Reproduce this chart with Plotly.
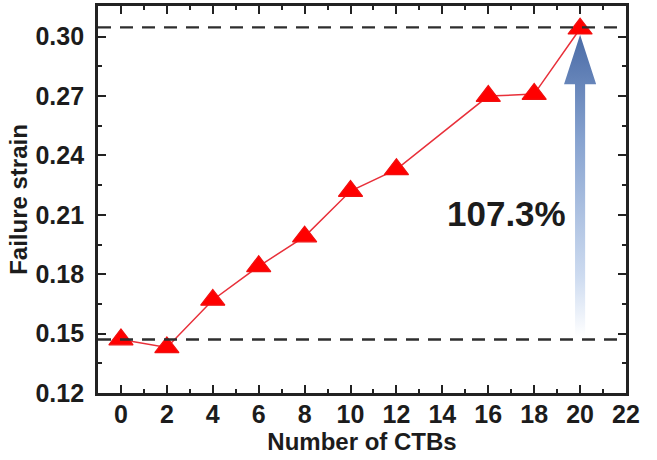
import plotly.graph_objects as go

ctbs = [0, 2, 4, 6, 8, 10, 12, 16, 18, 20]
failure_strain = [0.147, 0.143, 0.167, 0.184, 0.199, 0.222, 0.233, 0.270, 0.271, 0.304]
ref_low = 0.147
ref_high = 0.3047
increase_label = "107.3%"
x_ticks = list(range(0, 23, 2))
y_ticks = [0.12, 0.15, 0.18, 0.21, 0.24, 0.27, 0.30]

FONT = "Liberation Sans, Arial, sans-serif"
INK = "#1c1c1c"

fig = go.Figure()

# gradient arrow at last point
xa = ctbs[-1]
shaft_w, head_w = 0.22, 0.70
y_bot = ref_low + 0.0015
y_tip = failure_strain[-1] - 0.003
y_headbase = y_tip - 0.025
ax = [xa - shaft_w, xa + shaft_w, xa + shaft_w, xa + head_w, xa, xa - head_w, xa - shaft_w, xa - shaft_w]
ay = [y_bot, y_bot, y_headbase, y_headbase, y_tip, y_headbase, y_headbase, y_bot]
fig.add_trace(go.Scatter(
    x=ax, y=ay, mode="lines", fill="toself",
    line=dict(width=0, color="rgba(0,0,0,0)"),
    fillgradient=dict(type="vertical",
                      colorscale=[[0, "rgba(255,255,255,1)"], [0.2, "#cddbf0"], [0.65, "#87a3d0"], [1, "#4a6ba6"]]),
    hoverinfo="skip", showlegend=False))

fig.add_trace(go.Scatter(
    x=ctbs, y=failure_strain, mode="lines+markers",
    line=dict(color="#e8303a", width=1.5),
    marker=dict(symbol="triangle-up", size=21, color="#ff0000", line=dict(width=1.2, color="#f01010")),
    showlegend=False))

for yv in (ref_low, ref_high):
    fig.add_shape(type="line", xref="x domain", yref="y", x0=0, x1=1, y0=yv, y1=yv,
                  line=dict(color="#2e2e2e", width=2.4, dash="13px,9px"), layer="above")

fig.add_annotation(x=16.8, y=0.2105, text="<b>" + increase_label + "</b>", showarrow=False,
                   font=dict(family=FONT, size=35, color=INK))

axis_common = dict(
    showline=True, linecolor="#222222", linewidth=2.8, mirror="ticks",
    ticks="inside", ticklen=8, tickwidth=2.2, tickcolor="#222222",
    showgrid=False, zeroline=False, automargin=False,
    tickfont=dict(family=FONT, size=25, color=INK, weight="bold"),
)

fig.update_xaxes(
    range=[-1, 22], tickvals=x_ticks, ticktext=[str(v) for v in x_ticks],
    minor=dict(dtick=1, tick0=0, ticks="inside", ticklen=4, tickwidth=2.2, tickcolor="#222222"),
    ticklabelstandoff=-3,
    title=dict(text="<b>Number of CTBs</b>", standoff=0,
               font=dict(family=FONT, size=24, color=INK)),
    **axis_common)
fig.update_yaxes(
    range=[0.12, 0.3155], tickvals=y_ticks, ticktext=[f"{v:.2f}" for v in y_ticks],
    minor=dict(dtick=0.015, tick0=0.12, ticks="inside", ticklen=4, tickwidth=2.2, tickcolor="#222222"),
    ticklabelstandoff=6,
    title=dict(text="<b>Failure strain</b>", standoff=2,
               font=dict(family=FONT, size=24, color=INK)),
    **axis_common)

fig.update_layout(
    width=657, height=460,
    margin=dict(l=98, r=31, t=6, b=67),
    plot_bgcolor="white", paper_bgcolor="white",
)

fig.write_html("out.html", config={"displayModeBar": False},
               post_script="document.body.style.margin='0px';")
